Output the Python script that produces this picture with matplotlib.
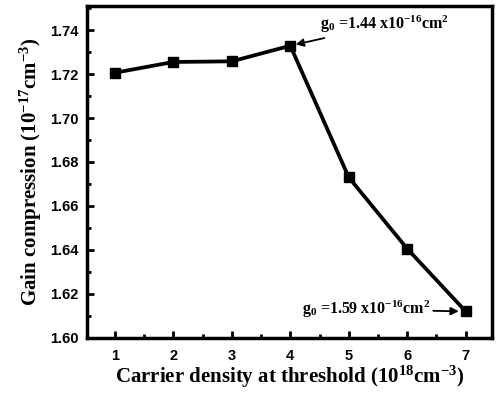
import matplotlib
matplotlib.use('Agg')
import matplotlib.pyplot as plt
from matplotlib.ticker import MultipleLocator

plt.rcParams['mathtext.fontset'] = 'custom'
plt.rcParams['mathtext.rm'] = 'Liberation Serif:bold'
plt.rcParams['mathtext.it'] = 'Liberation Serif:bold'
plt.rcParams['mathtext.bf'] = 'Liberation Serif:bold'

# 数据
density = [1, 2, 3, 4, 5, 6, 7]
gain_comp = [1.7206, 1.7255, 1.7258, 1.7329, 1.6730, 1.6405, 1.6120]
y_ticks = [1.60, 1.62, 1.64, 1.66, 1.68, 1.70, 1.72, 1.74]

fig = plt.figure(figsize=(4.96, 3.96), dpi=100)
ax = fig.add_axes([0.175, 0.147, 0.817, 0.838])

ax.plot(density, gain_comp, color='black', linewidth=2.7, marker='s',
        markersize=7, markerfacecolor='black')

ax.set_xlim(0.52, 7.45)
ax.set_ylim(1.60, 1.751)
ax.set_xticks(density)
ax.set_yticks(y_ticks)
ax.xaxis.set_minor_locator(MultipleLocator(0.5))
ax.yaxis.set_minor_locator(MultipleLocator(0.01))

for sp in ax.spines.values():
    sp.set_linewidth(2.5)
ax.tick_params(which='both', direction='in', width=2)
ax.tick_params(which='major', length=5)
ax.tick_params(which='minor', length=3)
ax.tick_params(axis='x', pad=8)
ax.tick_params(axis='y', pad=6)
for lab in ax.get_xticklabels() + ax.get_yticklabels():
    lab.set_fontfamily('Liberation Sans')
    lab.set_fontweight('bold')
    lab.set_fontsize(10.5)
ax.yaxis.set_major_formatter(plt.FormatStrFormatter('%.2f'))

ax.set_xlabel('Carrier density at threshold (10$^{18}$cm$^{-3}$)',
              fontfamily='Liberation Serif', fontweight='bold', fontsize=15, labelpad=1)
ax.set_ylabel('Gain compression (10$^{-17}$cm$^{-3}$)',
              fontfamily='Liberation Serif', fontweight='bold', fontsize=15, labelpad=4)

ax.annotate('g$_0$ =1.44 x10$^{-16}$cm$^2$', xy=(density[3], gain_comp[3]),
            xytext=(4.5, 1.7425), fontfamily='Liberation Serif', fontweight='bold',
            fontsize=11.5, va='center',
            arrowprops=dict(arrowstyle='-|>', color='black', lw=1.3, shrinkA=0, shrinkB=4))
ax.annotate('g$_0$ =1.59 x10$^{-16}$cm$^2$', xy=(density[6], gain_comp[6]),
            xytext=(4.2, 1.6128), fontfamily='Liberation Serif', fontweight='bold',
            fontsize=11.5, va='center',
            arrowprops=dict(arrowstyle='-|>', color='black', lw=1.3, shrinkA=0, shrinkB=5))

plt.savefig('out.png', dpi=100)
